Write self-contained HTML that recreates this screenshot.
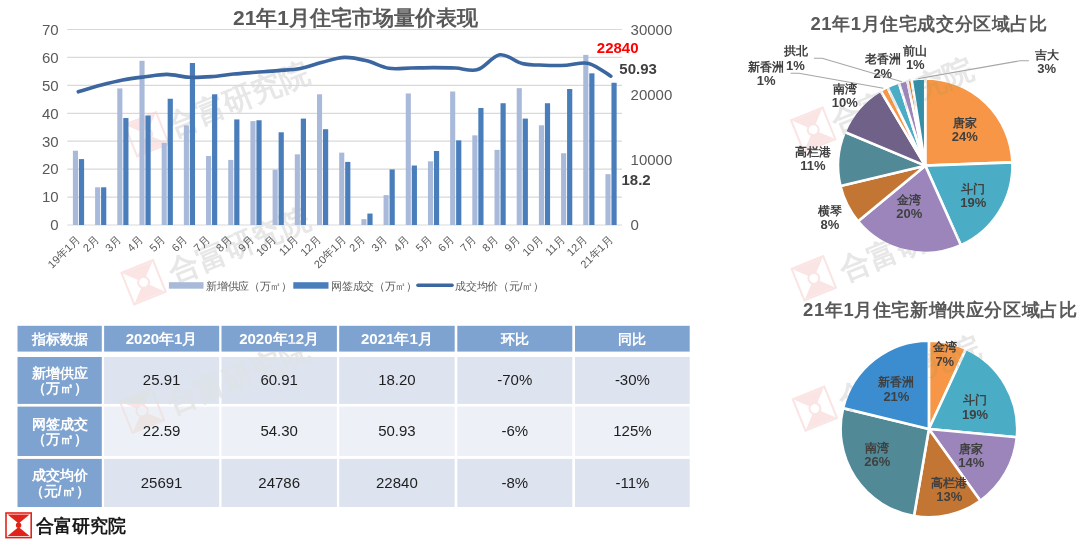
<!DOCTYPE html><html><head><meta charset="utf-8"><title>21年1月住宅市场量价表现</title><style>html,body{margin:0;padding:0;background:#fff;width:1080px;height:542px;overflow:hidden}svg{display:block;font-family:"Liberation Sans", sans-serif}</style></head><body>
<svg width="1080" height="542" viewBox="0 0 1080 542">
<rect width="1080" height="542" fill="#fff"/>
<text x="355.5" y="25.0" font-size="21" fill="#595959" font-weight="bold" text-anchor="middle" >21年1月住宅市场量价表现</text>
<line x1="67.2" y1="225.00" x2="622.0" y2="225.00" stroke="#d9d9d9" stroke-width="1.2"/>
<text x="58.7" y="230.3" font-size="15" fill="#595959" font-weight="normal" text-anchor="end" >0</text>
<line x1="67.2" y1="197.07" x2="622.0" y2="197.07" stroke="#d9d9d9" stroke-width="1.2"/>
<text x="58.7" y="202.4" font-size="15" fill="#595959" font-weight="normal" text-anchor="end" >10</text>
<line x1="67.2" y1="169.14" x2="622.0" y2="169.14" stroke="#d9d9d9" stroke-width="1.2"/>
<text x="58.7" y="174.4" font-size="15" fill="#595959" font-weight="normal" text-anchor="end" >20</text>
<line x1="67.2" y1="141.21" x2="622.0" y2="141.21" stroke="#d9d9d9" stroke-width="1.2"/>
<text x="58.7" y="146.5" font-size="15" fill="#595959" font-weight="normal" text-anchor="end" >30</text>
<line x1="67.2" y1="113.29" x2="622.0" y2="113.29" stroke="#d9d9d9" stroke-width="1.2"/>
<text x="58.7" y="118.6" font-size="15" fill="#595959" font-weight="normal" text-anchor="end" >40</text>
<line x1="67.2" y1="85.36" x2="622.0" y2="85.36" stroke="#d9d9d9" stroke-width="1.2"/>
<text x="58.7" y="90.7" font-size="15" fill="#595959" font-weight="normal" text-anchor="end" >50</text>
<line x1="67.2" y1="57.43" x2="622.0" y2="57.43" stroke="#d9d9d9" stroke-width="1.2"/>
<text x="58.7" y="62.7" font-size="15" fill="#595959" font-weight="normal" text-anchor="end" >60</text>
<line x1="67.2" y1="29.50" x2="622.0" y2="29.50" stroke="#d9d9d9" stroke-width="1.2"/>
<text x="58.7" y="34.8" font-size="15" fill="#595959" font-weight="normal" text-anchor="end" >70</text>
<text x="630.6" y="230.3" font-size="15" fill="#595959" font-weight="normal" text-anchor="start" >0</text>
<text x="630.6" y="165.1" font-size="15" fill="#595959" font-weight="normal" text-anchor="start" >10000</text>
<text x="630.6" y="100.0" font-size="15" fill="#595959" font-weight="normal" text-anchor="start" >20000</text>
<text x="630.6" y="34.8" font-size="15" fill="#595959" font-weight="normal" text-anchor="start" >30000</text>
<g transform="translate(146.6,134.2) rotate(-22.0)" style="mix-blend-mode:darken">
<rect x="-17" y="-17" width="34" height="34" fill="none" stroke="#fae4e4" stroke-width="2"/>
<path d="M-16,-16 L16,-16 L0,0 Z M-16,16 L16,16 L0,0 Z" fill="#fae4e4"/>
<circle cx="0" cy="0" r="5.5" fill="#ffffff" stroke="#fae4e4" stroke-width="2"/>
</g>
<text x="0" y="0" transform="translate(172.7,136.5) rotate(-22.0)" font-size="30" font-weight="bold" fill="#e7e7e7" style="mix-blend-mode:darken">合富研究院</text>
<g transform="translate(143.6,282.3) rotate(-22.0)" style="mix-blend-mode:darken">
<rect x="-17" y="-17" width="34" height="34" fill="none" stroke="#fae4e4" stroke-width="2"/>
<path d="M-16,-16 L16,-16 L0,0 Z M-16,16 L16,16 L0,0 Z" fill="#fae4e4"/>
<circle cx="0" cy="0" r="5.5" fill="#ffffff" stroke="#fae4e4" stroke-width="2"/>
</g>
<text x="0" y="0" transform="translate(173.8,282.9) rotate(-22.0)" font-size="30" font-weight="bold" fill="#e7e7e7" style="mix-blend-mode:darken">合富研究院</text>
<rect x="72.89" y="150.71" width="5.1" height="74.29" fill="#a9b9d9"/>
<rect x="78.89" y="159.09" width="5.2" height="65.91" fill="#4a7ebb"/>
<rect x="95.09" y="187.30" width="5.1" height="37.70" fill="#a9b9d9"/>
<rect x="101.09" y="187.30" width="5.2" height="37.70" fill="#4a7ebb"/>
<rect x="117.28" y="88.43" width="5.1" height="136.57" fill="#a9b9d9"/>
<rect x="123.28" y="118.03" width="5.2" height="106.97" fill="#4a7ebb"/>
<rect x="139.47" y="60.78" width="5.1" height="164.22" fill="#a9b9d9"/>
<rect x="145.47" y="115.52" width="5.2" height="109.48" fill="#4a7ebb"/>
<rect x="161.66" y="142.89" width="5.1" height="82.11" fill="#a9b9d9"/>
<rect x="167.66" y="98.76" width="5.2" height="126.24" fill="#4a7ebb"/>
<rect x="183.84" y="125.30" width="5.1" height="99.70" fill="#a9b9d9"/>
<rect x="189.84" y="63.01" width="5.2" height="161.99" fill="#4a7ebb"/>
<rect x="206.03" y="156.02" width="5.1" height="68.98" fill="#a9b9d9"/>
<rect x="212.03" y="94.29" width="5.2" height="130.71" fill="#4a7ebb"/>
<rect x="228.22" y="159.93" width="5.1" height="65.07" fill="#a9b9d9"/>
<rect x="234.22" y="119.43" width="5.2" height="105.57" fill="#4a7ebb"/>
<rect x="250.41" y="121.11" width="5.1" height="103.89" fill="#a9b9d9"/>
<rect x="256.42" y="120.27" width="5.2" height="104.73" fill="#4a7ebb"/>
<rect x="272.61" y="169.70" width="5.1" height="55.30" fill="#a9b9d9"/>
<rect x="278.61" y="132.28" width="5.2" height="92.72" fill="#4a7ebb"/>
<rect x="294.80" y="154.34" width="5.1" height="70.66" fill="#a9b9d9"/>
<rect x="300.80" y="118.59" width="5.2" height="106.41" fill="#4a7ebb"/>
<rect x="316.99" y="94.29" width="5.1" height="130.71" fill="#a9b9d9"/>
<rect x="322.99" y="129.21" width="5.2" height="95.79" fill="#4a7ebb"/>
<rect x="339.18" y="152.64" width="5.1" height="72.36" fill="#a9b9d9"/>
<rect x="345.18" y="161.91" width="5.2" height="63.09" fill="#4a7ebb"/>
<rect x="361.37" y="219.13" width="5.1" height="5.87" fill="#a9b9d9"/>
<rect x="367.37" y="213.55" width="5.2" height="11.45" fill="#4a7ebb"/>
<rect x="383.56" y="195.12" width="5.1" height="29.88" fill="#a9b9d9"/>
<rect x="389.56" y="169.42" width="5.2" height="55.58" fill="#4a7ebb"/>
<rect x="405.75" y="93.46" width="5.1" height="131.54" fill="#a9b9d9"/>
<rect x="411.75" y="165.51" width="5.2" height="59.49" fill="#4a7ebb"/>
<rect x="427.94" y="161.32" width="5.1" height="63.68" fill="#a9b9d9"/>
<rect x="433.94" y="150.99" width="5.2" height="74.01" fill="#4a7ebb"/>
<rect x="450.13" y="91.50" width="5.1" height="133.50" fill="#a9b9d9"/>
<rect x="456.13" y="140.38" width="5.2" height="84.62" fill="#4a7ebb"/>
<rect x="472.32" y="135.35" width="5.1" height="89.65" fill="#a9b9d9"/>
<rect x="478.32" y="107.98" width="5.2" height="117.02" fill="#4a7ebb"/>
<rect x="494.51" y="149.87" width="5.1" height="75.13" fill="#a9b9d9"/>
<rect x="500.51" y="103.23" width="5.2" height="121.77" fill="#4a7ebb"/>
<rect x="516.70" y="88.15" width="5.1" height="136.85" fill="#a9b9d9"/>
<rect x="522.70" y="118.59" width="5.2" height="106.41" fill="#4a7ebb"/>
<rect x="538.89" y="125.30" width="5.1" height="99.70" fill="#a9b9d9"/>
<rect x="544.89" y="103.23" width="5.2" height="121.77" fill="#4a7ebb"/>
<rect x="561.08" y="153.22" width="5.1" height="71.78" fill="#a9b9d9"/>
<rect x="567.08" y="88.99" width="5.2" height="136.01" fill="#4a7ebb"/>
<rect x="583.27" y="54.89" width="5.1" height="170.11" fill="#a9b9d9"/>
<rect x="589.27" y="73.35" width="5.2" height="151.65" fill="#4a7ebb"/>
<rect x="605.46" y="174.17" width="5.1" height="50.83" fill="#a9b9d9"/>
<rect x="611.46" y="82.76" width="5.2" height="142.24" fill="#4a7ebb"/>
<path d="M78.30,91.80 C81.99,90.72 93.09,87.27 100.49,85.30 C107.88,83.33 115.28,81.42 122.68,80.00 C130.07,78.58 137.47,77.73 144.87,76.80 C152.26,75.87 159.66,74.32 167.06,74.40 C174.45,74.48 181.85,76.93 189.25,77.30 C196.64,77.67 204.04,77.15 211.44,76.60 C218.83,76.05 226.23,74.72 233.62,74.00 C241.02,73.28 248.42,72.87 255.81,72.30 C263.21,71.73 270.61,71.25 278.00,70.60 C285.40,69.95 292.80,69.80 300.19,68.40 C307.59,67.00 314.99,64.03 322.38,62.20 C329.78,60.37 337.18,57.63 344.57,57.40 C351.97,57.17 359.37,58.98 366.76,60.80 C374.16,62.62 381.56,67.10 388.95,68.30 C396.35,69.50 403.75,68.12 411.14,68.00 C418.54,67.88 425.94,67.60 433.34,67.60 C440.73,67.60 448.13,67.67 455.53,68.00 C462.92,68.33 470.32,71.80 477.72,69.60 C485.11,67.40 492.51,55.83 499.91,54.80 C507.30,53.77 514.70,61.67 522.10,63.40 C529.49,65.13 536.89,64.90 544.29,65.20 C551.68,65.50 559.08,65.50 566.48,65.20 C573.87,64.90 581.27,61.57 588.67,63.40 C596.06,65.23 607.16,74.07 610.86,76.20" fill="none" stroke="#3b669f" stroke-width="3.6" stroke-linecap="round" stroke-linejoin="round"/>
<text x="596.8" y="53.2" font-size="15" fill="#ff0000" font-weight="bold" text-anchor="start" >22840</text>
<text x="619.3" y="73.9" font-size="15" fill="#404040" font-weight="bold" text-anchor="start" >50.93</text>
<text x="621.5" y="185.2" font-size="15" fill="#404040" font-weight="bold" text-anchor="start" >18.2</text>
<text transform="translate(78.8,238.3) rotate(-45)" font-size="11" fill="#595959" text-anchor="end" dominant-baseline="middle">19年1月</text>
<text transform="translate(97.5,238.3) rotate(-45)" font-size="11" fill="#595959" text-anchor="end" dominant-baseline="middle">2月</text>
<text transform="translate(119.7,238.3) rotate(-45)" font-size="11" fill="#595959" text-anchor="end" dominant-baseline="middle">3月</text>
<text transform="translate(141.9,238.3) rotate(-45)" font-size="11" fill="#595959" text-anchor="end" dominant-baseline="middle">4月</text>
<text transform="translate(164.1,238.3) rotate(-45)" font-size="11" fill="#595959" text-anchor="end" dominant-baseline="middle">5月</text>
<text transform="translate(186.2,238.3) rotate(-45)" font-size="11" fill="#595959" text-anchor="end" dominant-baseline="middle">6月</text>
<text transform="translate(208.4,238.3) rotate(-45)" font-size="11" fill="#595959" text-anchor="end" dominant-baseline="middle">7月</text>
<text transform="translate(230.6,238.3) rotate(-45)" font-size="11" fill="#595959" text-anchor="end" dominant-baseline="middle">8月</text>
<text transform="translate(252.8,238.3) rotate(-45)" font-size="11" fill="#595959" text-anchor="end" dominant-baseline="middle">9月</text>
<text transform="translate(275.0,238.3) rotate(-45)" font-size="11" fill="#595959" text-anchor="end" dominant-baseline="middle">10月</text>
<text transform="translate(297.2,238.3) rotate(-45)" font-size="11" fill="#595959" text-anchor="end" dominant-baseline="middle">11月</text>
<text transform="translate(319.4,238.3) rotate(-45)" font-size="11" fill="#595959" text-anchor="end" dominant-baseline="middle">12月</text>
<text transform="translate(345.1,238.3) rotate(-45)" font-size="11" fill="#595959" text-anchor="end" dominant-baseline="middle">20年1月</text>
<text transform="translate(363.8,238.3) rotate(-45)" font-size="11" fill="#595959" text-anchor="end" dominant-baseline="middle">2月</text>
<text transform="translate(386.0,238.3) rotate(-45)" font-size="11" fill="#595959" text-anchor="end" dominant-baseline="middle">3月</text>
<text transform="translate(408.1,238.3) rotate(-45)" font-size="11" fill="#595959" text-anchor="end" dominant-baseline="middle">4月</text>
<text transform="translate(430.3,238.3) rotate(-45)" font-size="11" fill="#595959" text-anchor="end" dominant-baseline="middle">5月</text>
<text transform="translate(452.5,238.3) rotate(-45)" font-size="11" fill="#595959" text-anchor="end" dominant-baseline="middle">6月</text>
<text transform="translate(474.7,238.3) rotate(-45)" font-size="11" fill="#595959" text-anchor="end" dominant-baseline="middle">7月</text>
<text transform="translate(496.9,238.3) rotate(-45)" font-size="11" fill="#595959" text-anchor="end" dominant-baseline="middle">8月</text>
<text transform="translate(519.1,238.3) rotate(-45)" font-size="11" fill="#595959" text-anchor="end" dominant-baseline="middle">9月</text>
<text transform="translate(541.3,238.3) rotate(-45)" font-size="11" fill="#595959" text-anchor="end" dominant-baseline="middle">10月</text>
<text transform="translate(563.5,238.3) rotate(-45)" font-size="11" fill="#595959" text-anchor="end" dominant-baseline="middle">11月</text>
<text transform="translate(585.7,238.3) rotate(-45)" font-size="11" fill="#595959" text-anchor="end" dominant-baseline="middle">12月</text>
<text transform="translate(611.4,238.3) rotate(-45)" font-size="11" fill="#595959" text-anchor="end" dominant-baseline="middle">21年1月</text>
<rect x="168.9" y="282.2" width="34.6" height="6.5" fill="#a9b9d9"/>
<text x="206.3" y="290.0" font-size="11" fill="#595959" font-weight="normal" text-anchor="start" letter-spacing="-0.3">新增供应（万㎡）</text>
<rect x="293.3" y="282.2" width="35.2" height="6.5" fill="#4a7ebb"/>
<text x="331.3" y="290.0" font-size="11" fill="#595959" font-weight="normal" text-anchor="start" letter-spacing="-0.3">网签成交（万㎡）</text>
<line x1="418" y1="285.3" x2="452" y2="285.3" stroke="#3b669f" stroke-width="3.6" stroke-linecap="round"/>
<text x="455.4" y="290.0" font-size="11" fill="#595959" font-weight="normal" text-anchor="start" letter-spacing="-0.3">成交均价（元/㎡）</text>
<rect x="17.5" y="325.8" width="84.3" height="25.8" fill="#7fa3d0"/>
<text x="59.6" y="343.5" font-size="14" fill="#ffffff" font-weight="bold" text-anchor="middle" >指标数据</text>
<rect x="104.1" y="325.8" width="115.1" height="25.8" fill="#7fa3d0"/>
<text x="161.6" y="343.8" font-size="15" fill="#ffffff" font-weight="bold" text-anchor="middle" >2020年1月</text>
<rect x="221.5" y="325.8" width="115.4" height="25.8" fill="#7fa3d0"/>
<text x="279.2" y="343.8" font-size="15" fill="#ffffff" font-weight="bold" text-anchor="middle" >2020年12月</text>
<rect x="339.2" y="325.8" width="115.5" height="25.8" fill="#7fa3d0"/>
<text x="396.9" y="343.8" font-size="15" fill="#ffffff" font-weight="bold" text-anchor="middle" >2021年1月</text>
<rect x="457.3" y="325.8" width="115.0" height="25.8" fill="#7fa3d0"/>
<text x="514.8" y="343.5" font-size="14" fill="#ffffff" font-weight="bold" text-anchor="middle" >环比</text>
<rect x="575.0" y="325.8" width="114.7" height="25.8" fill="#7fa3d0"/>
<text x="632.4" y="343.5" font-size="14" fill="#ffffff" font-weight="bold" text-anchor="middle" >同比</text>
<rect x="17.5" y="357.0" width="84.3" height="46.9" fill="#7fa3d0"/>
<text x="59.6" y="377.6" font-size="14" fill="#ffffff" font-weight="bold" text-anchor="middle" >新增供应</text>
<text x="59.6" y="393.4" font-size="14" fill="#ffffff" font-weight="bold" text-anchor="middle" >（万㎡）</text>
<rect x="104.1" y="357.0" width="115.1" height="46.9" fill="#dde3ef"/>
<text x="161.6" y="385.3" font-size="15" fill="#1e1e1e" font-weight="normal" text-anchor="middle" >25.91</text>
<rect x="221.5" y="357.0" width="115.4" height="46.9" fill="#dde3ef"/>
<text x="279.2" y="385.3" font-size="15" fill="#1e1e1e" font-weight="normal" text-anchor="middle" >60.91</text>
<rect x="339.2" y="357.0" width="115.5" height="46.9" fill="#dde3ef"/>
<text x="396.9" y="385.3" font-size="15" fill="#1e1e1e" font-weight="normal" text-anchor="middle" >18.20</text>
<rect x="457.3" y="357.0" width="115.0" height="46.9" fill="#dde3ef"/>
<text x="514.8" y="385.3" font-size="15" fill="#1e1e1e" font-weight="normal" text-anchor="middle" >-70%</text>
<rect x="575.0" y="357.0" width="114.7" height="46.9" fill="#dde3ef"/>
<text x="632.4" y="385.3" font-size="15" fill="#1e1e1e" font-weight="normal" text-anchor="middle" >-30%</text>
<rect x="17.5" y="406.6" width="84.3" height="49.4" fill="#7fa3d0"/>
<text x="59.6" y="428.5" font-size="14" fill="#ffffff" font-weight="bold" text-anchor="middle" >网签成交</text>
<text x="59.6" y="444.3" font-size="14" fill="#ffffff" font-weight="bold" text-anchor="middle" >（万㎡）</text>
<rect x="104.1" y="406.6" width="115.1" height="49.4" fill="#edf0f7"/>
<text x="161.6" y="436.2" font-size="15" fill="#1e1e1e" font-weight="normal" text-anchor="middle" >22.59</text>
<rect x="221.5" y="406.6" width="115.4" height="49.4" fill="#edf0f7"/>
<text x="279.2" y="436.2" font-size="15" fill="#1e1e1e" font-weight="normal" text-anchor="middle" >54.30</text>
<rect x="339.2" y="406.6" width="115.5" height="49.4" fill="#edf0f7"/>
<text x="396.9" y="436.2" font-size="15" fill="#1e1e1e" font-weight="normal" text-anchor="middle" >50.93</text>
<rect x="457.3" y="406.6" width="115.0" height="49.4" fill="#edf0f7"/>
<text x="514.8" y="436.2" font-size="15" fill="#1e1e1e" font-weight="normal" text-anchor="middle" >-6%</text>
<rect x="575.0" y="406.6" width="114.7" height="49.4" fill="#edf0f7"/>
<text x="632.4" y="436.2" font-size="15" fill="#1e1e1e" font-weight="normal" text-anchor="middle" >125%</text>
<rect x="17.5" y="458.9" width="84.3" height="48.1" fill="#7fa3d0"/>
<text x="59.6" y="480.1" font-size="14" fill="#ffffff" font-weight="bold" text-anchor="middle" >成交均价</text>
<text x="59.6" y="495.9" font-size="14" fill="#ffffff" font-weight="bold" text-anchor="middle" >（元/㎡）</text>
<rect x="104.1" y="458.9" width="115.1" height="48.1" fill="#dde3ef"/>
<text x="161.6" y="487.8" font-size="15" fill="#1e1e1e" font-weight="normal" text-anchor="middle" >25691</text>
<rect x="221.5" y="458.9" width="115.4" height="48.1" fill="#dde3ef"/>
<text x="279.2" y="487.8" font-size="15" fill="#1e1e1e" font-weight="normal" text-anchor="middle" >24786</text>
<rect x="339.2" y="458.9" width="115.5" height="48.1" fill="#dde3ef"/>
<text x="396.9" y="487.8" font-size="15" fill="#1e1e1e" font-weight="normal" text-anchor="middle" >22840</text>
<rect x="457.3" y="458.9" width="115.0" height="48.1" fill="#dde3ef"/>
<text x="514.8" y="487.8" font-size="15" fill="#1e1e1e" font-weight="normal" text-anchor="middle" >-8%</text>
<rect x="575.0" y="458.9" width="114.7" height="48.1" fill="#dde3ef"/>
<text x="632.4" y="487.8" font-size="15" fill="#1e1e1e" font-weight="normal" text-anchor="middle" >-11%</text>
<g>
<rect x="6" y="513" width="25.2" height="24.6" fill="#fff" stroke="#e2231a" stroke-width="1.6"/>
<path d="M7.6,514.5 L29.6,514.5 L18.6,523.6 Z M7.6,536.1 L29.6,536.1 L18.6,527.0 Z" fill="#e2231a"/>
<circle cx="18.6" cy="525.3" r="2.7" fill="#e2231a"/>
</g>
<text x="35.6" y="531.8" font-size="18" fill="#1a1a1a" font-weight="bold" text-anchor="start" >合富研究院</text>
<text x="929.0" y="30.0" font-size="18.45" fill="#595959" font-weight="bold" text-anchor="middle" letter-spacing="0.6">21年1月住宅成交分区域占比</text>
<path d="M925.25,165.65 L925.25,78.45 A87.20,87.20 0 0 1 1012.39,162.36 Z" fill="#f79646" stroke="#fff" stroke-width="2.60" stroke-linejoin="round"/>
<path d="M925.25,165.65 L1012.39,162.36 A87.20,87.20 0 0 1 960.88,245.24 Z" fill="#4bacc6" stroke="#fff" stroke-width="2.60" stroke-linejoin="round"/>
<path d="M925.25,165.65 L960.88,245.24 A87.20,87.20 0 0 1 858.06,221.23 Z" fill="#9b85ba" stroke="#fff" stroke-width="2.60" stroke-linejoin="round"/>
<path d="M925.25,165.65 L858.06,221.23 A87.20,87.20 0 0 1 840.46,186.01 Z" fill="#c37534" stroke="#fff" stroke-width="2.60" stroke-linejoin="round"/>
<path d="M925.25,165.65 L840.46,186.01 A87.20,87.20 0 0 1 844.79,132.03 Z" fill="#518997" stroke="#fff" stroke-width="2.60" stroke-linejoin="round"/>
<path d="M925.25,165.65 L844.79,132.03 A87.20,87.20 0 0 1 880.63,90.73 Z" fill="#6f6188" stroke="#fff" stroke-width="2.60" stroke-linejoin="round"/>
<path d="M925.25,165.65 L880.63,90.73 A87.20,87.20 0 0 1 887.38,87.10 Z" fill="#f79646" stroke="#fff" stroke-width="2.60" stroke-linejoin="round"/>
<path d="M925.25,165.65 L887.38,87.10 A87.20,87.20 0 0 1 898.83,82.55 Z" fill="#4bacc6" stroke="#fff" stroke-width="2.60" stroke-linejoin="round"/>
<path d="M925.25,165.65 L898.83,82.55 A87.20,87.20 0 0 1 907.30,80.32 Z" fill="#9b85ba" stroke="#fff" stroke-width="2.60" stroke-linejoin="round"/>
<path d="M925.25,165.65 L907.30,80.32 A87.20,87.20 0 0 1 911.61,79.52 Z" fill="#e3772a" stroke="#fff" stroke-width="2.60" stroke-linejoin="round"/>
<path d="M925.25,165.65 L911.61,79.52 A87.20,87.20 0 0 1 925.25,78.45 Z" fill="#338ea6" stroke="#fff" stroke-width="2.60" stroke-linejoin="round"/>
<polyline points="813.9,58.3 822.2,58.3 902,81.8" fill="none" stroke="#a6a6a6" stroke-width="1.1"/>
<polyline points="790.6,73.3 798.9,73.3 883.4,88.3" fill="none" stroke="#a6a6a6" stroke-width="1.1"/>
<polyline points="918.2,78.6 1020,60.8 1028.9,60.8" fill="none" stroke="#a6a6a6" stroke-width="1.1"/>
<text x="795.5" y="55.0" font-size="12.2" fill="#404040" font-weight="bold" text-anchor="middle" >拱北</text>
<text x="795.5" y="70.0" font-size="13" fill="#404040" font-weight="bold" text-anchor="middle" >1%</text>
<text x="766.1" y="71.0" font-size="12.2" fill="#404040" font-weight="bold" text-anchor="middle" >新香洲</text>
<text x="766.1" y="85.0" font-size="13" fill="#404040" font-weight="bold" text-anchor="middle" >1%</text>
<text x="844.8" y="92.5" font-size="12.2" fill="#404040" font-weight="bold" text-anchor="middle" >南湾</text>
<text x="844.8" y="106.5" font-size="13" fill="#404040" font-weight="bold" text-anchor="middle" >10%</text>
<text x="812.8" y="156.0" font-size="12.2" fill="#404040" font-weight="bold" text-anchor="middle" >高栏港</text>
<text x="812.8" y="169.5" font-size="13" fill="#404040" font-weight="bold" text-anchor="middle" >11%</text>
<text x="829.9" y="215.0" font-size="12.2" fill="#404040" font-weight="bold" text-anchor="middle" >横琴</text>
<text x="829.9" y="228.5" font-size="13" fill="#404040" font-weight="bold" text-anchor="middle" >8%</text>
<text x="882.8" y="63.4" font-size="12.2" fill="#404040" font-weight="bold" text-anchor="middle" >老香洲</text>
<text x="882.8" y="77.5" font-size="13" fill="#404040" font-weight="bold" text-anchor="middle" >2%</text>
<text x="915.3" y="55.3" font-size="12.2" fill="#404040" font-weight="bold" text-anchor="middle" >前山</text>
<text x="915.3" y="69.2" font-size="13" fill="#404040" font-weight="bold" text-anchor="middle" >1%</text>
<text x="1046.6" y="59.0" font-size="12.2" fill="#404040" font-weight="bold" text-anchor="middle" >吉大</text>
<text x="1046.6" y="72.5" font-size="13" fill="#404040" font-weight="bold" text-anchor="middle" >3%</text>
<text x="964.8" y="127.0" font-size="12.2" fill="#404040" font-weight="bold" text-anchor="middle" >唐家</text>
<text x="964.8" y="140.5" font-size="13" fill="#404040" font-weight="bold" text-anchor="middle" >24%</text>
<text x="973.3" y="193.0" font-size="12.2" fill="#404040" font-weight="bold" text-anchor="middle" >斗门</text>
<text x="973.3" y="206.5" font-size="13" fill="#404040" font-weight="bold" text-anchor="middle" >19%</text>
<text x="909.2" y="204.0" font-size="12.2" fill="#404040" font-weight="bold" text-anchor="middle" >金湾</text>
<text x="909.2" y="217.5" font-size="13" fill="#404040" font-weight="bold" text-anchor="middle" >20%</text>
<text x="940.3" y="316.0" font-size="18.45" fill="#595959" font-weight="bold" text-anchor="middle" letter-spacing="0.6">21年1月住宅新增供应分区域占比</text>
<path d="M928.90,429.00 L928.90,340.70 A88.30,88.30 0 0 1 965.99,348.87 Z" fill="#f79646" stroke="#fff" stroke-width="2.60" stroke-linejoin="round"/>
<path d="M928.90,429.00 L965.99,348.87 A88.30,88.30 0 0 1 1016.81,437.31 Z" fill="#4bacc6" stroke="#fff" stroke-width="2.60" stroke-linejoin="round"/>
<path d="M928.90,429.00 L1016.81,437.31 A88.30,88.30 0 0 1 980.35,500.76 Z" fill="#9b85ba" stroke="#fff" stroke-width="2.60" stroke-linejoin="round"/>
<path d="M928.90,429.00 L980.35,500.76 A88.30,88.30 0 0 1 913.99,516.03 Z" fill="#c37534" stroke="#fff" stroke-width="2.60" stroke-linejoin="round"/>
<path d="M928.90,429.00 L913.99,516.03 A88.30,88.30 0 0 1 843.10,408.12 Z" fill="#518997" stroke="#fff" stroke-width="2.60" stroke-linejoin="round"/>
<path d="M928.90,429.00 L843.10,408.12 A88.30,88.30 0 0 1 928.90,340.70 Z" fill="#3b8dcf" stroke="#fff" stroke-width="2.60" stroke-linejoin="round"/>
<text x="944.8" y="351.0" font-size="12.2" fill="#404040" font-weight="bold" text-anchor="middle" >金湾</text>
<text x="944.8" y="365.5" font-size="13" fill="#404040" font-weight="bold" text-anchor="middle" >7%</text>
<text x="975.0" y="404.0" font-size="12.2" fill="#404040" font-weight="bold" text-anchor="middle" >斗门</text>
<text x="975.0" y="418.5" font-size="13" fill="#404040" font-weight="bold" text-anchor="middle" >19%</text>
<text x="971.3" y="453.0" font-size="12.2" fill="#404040" font-weight="bold" text-anchor="middle" >唐家</text>
<text x="971.3" y="467.0" font-size="13" fill="#404040" font-weight="bold" text-anchor="middle" >14%</text>
<text x="949.2" y="487.0" font-size="12.2" fill="#404040" font-weight="bold" text-anchor="middle" >高栏港</text>
<text x="949.2" y="501.0" font-size="13" fill="#404040" font-weight="bold" text-anchor="middle" >13%</text>
<text x="877.2" y="452.0" font-size="12.2" fill="#404040" font-weight="bold" text-anchor="middle" >南湾</text>
<text x="877.2" y="466.0" font-size="13" fill="#404040" font-weight="bold" text-anchor="middle" >26%</text>
<text x="896.4" y="386.0" font-size="12.2" fill="#404040" font-weight="bold" text-anchor="middle" >新香洲</text>
<text x="896.4" y="400.5" font-size="13" fill="#404040" font-weight="bold" text-anchor="middle" >21%</text>
<g transform="translate(142.0,410.8) rotate(-22.0)" style="mix-blend-mode:darken">
<rect x="-17" y="-17" width="34" height="34" fill="none" stroke="#fae4e4" stroke-width="2"/>
<path d="M-16,-16 L16,-16 L0,0 Z M-16,16 L16,16 L0,0 Z" fill="#fae4e4"/>
<circle cx="0" cy="0" r="5.5" fill="#ffffff" stroke="#fae4e4" stroke-width="2"/>
</g>
<text x="0" y="0" transform="translate(172.3,414.4) rotate(-22.0)" font-size="30" font-weight="bold" fill="#e7e7e7" style="mix-blend-mode:darken">合富研究院</text>
<g transform="translate(813.2,129.7) rotate(-22.0)" style="mix-blend-mode:darken">
<rect x="-17" y="-17" width="34" height="34" fill="none" stroke="#fae4e4" stroke-width="2"/>
<path d="M-16,-16 L16,-16 L0,0 Z M-16,16 L16,16 L0,0 Z" fill="#fae4e4"/>
<circle cx="0" cy="0" r="5.5" fill="#ffffff" stroke="#fae4e4" stroke-width="2"/>
</g>
<text x="0" y="0" transform="translate(837.1,133.2) rotate(-22.0)" font-size="30" font-weight="bold" fill="#e7e7e7" style="mix-blend-mode:darken">合富研究院</text>
<g transform="translate(813.8,278.3) rotate(-22.0)" style="mix-blend-mode:darken">
<rect x="-17" y="-17" width="34" height="34" fill="none" stroke="#fae4e4" stroke-width="2"/>
<path d="M-16,-16 L16,-16 L0,0 Z M-16,16 L16,16 L0,0 Z" fill="#fae4e4"/>
<circle cx="0" cy="0" r="5.5" fill="#ffffff" stroke="#fae4e4" stroke-width="2"/>
</g>
<text x="0" y="0" transform="translate(844.9,281.2) rotate(-22.0)" font-size="30" font-weight="bold" fill="#e7e7e7" style="mix-blend-mode:darken">合富研究院</text>
<g transform="translate(814.9,408.6) rotate(-22.0)" style="mix-blend-mode:darken">
<rect x="-17" y="-17" width="34" height="34" fill="none" stroke="#fae4e4" stroke-width="2"/>
<path d="M-16,-16 L16,-16 L0,0 Z M-16,16 L16,16 L0,0 Z" fill="#fae4e4"/>
<circle cx="0" cy="0" r="5.5" fill="#ffffff" stroke="#fae4e4" stroke-width="2"/>
</g>
<text x="0" y="0" transform="translate(843.7,410.6) rotate(-22.0)" font-size="30" font-weight="bold" fill="#e7e7e7" style="mix-blend-mode:darken">合富研究院</text>
</svg></body></html>
